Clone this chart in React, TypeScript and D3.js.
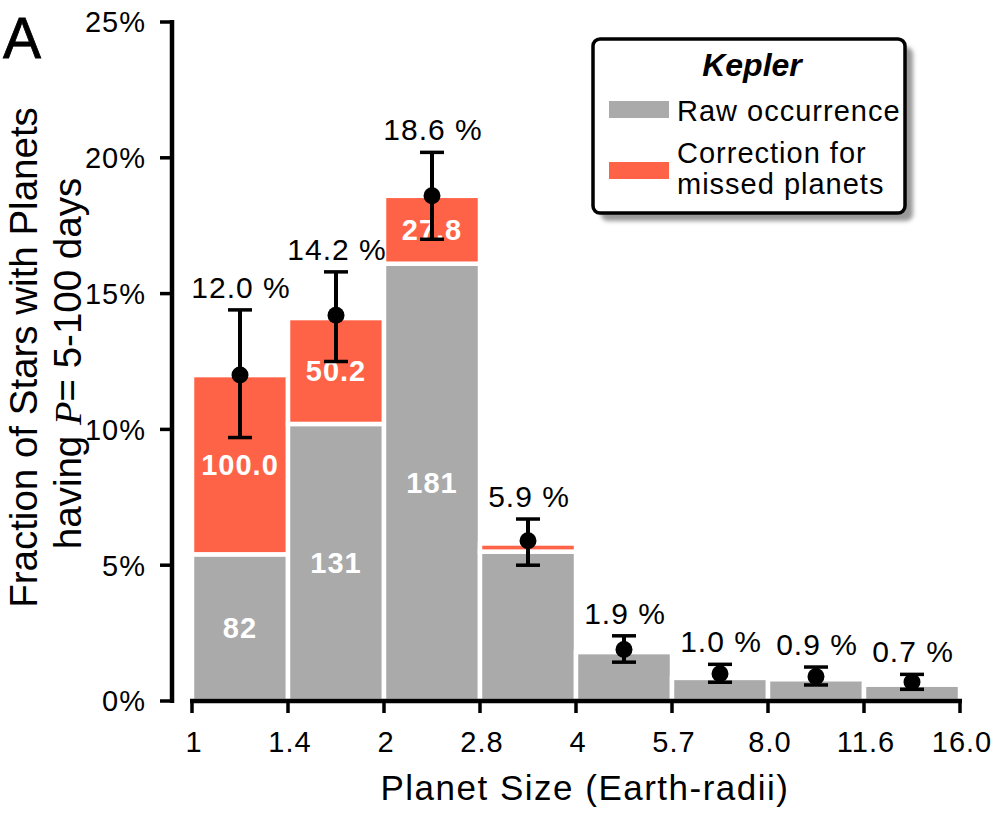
import React from "react";
import * as d3 from "d3";

// bin edges in Earth radii (tick labels)
const binEdges = ["1", "1.4", "2", "2.8", "4", "5.7", "8.0", "11.6", "16.0"];

// bar heights (% of stars)
const rawOccurrence = [5.4, 10.2, 16.1, 5.5, 1.8, 0.85, 0.8, 0.6];
const missedCorrection = [6.6, 3.9, 2.5, 0.3, 0, 0, 0, 0];

// occurrence points with error bars
const occurrence = [12.0, 14.2, 18.6, 5.9, 1.9, 1.0, 0.9, 0.7];
const errHigh = [14.4, 15.8, 20.2, 6.7, 2.4, 1.35, 1.25, 0.98];
const errLow = [9.7, 12.5, 17.0, 5.0, 1.43, 0.69, 0.59, 0.43];

// text inside bars
const rawCounts = ["82", "131", "181", "", "", "", "", ""];
const correctionPct = ["100.0", "50.2", "27.8", "", "", "", "", ""];

const yTicks = [0, 5, 10, 15, 20, 25];

const GRAY = "#aaaaaa";
const RED = "#ff6347";
const FONT = "'Liberation Sans', Arial, Helvetica, sans-serif";

const App = () => {
  const width = 999;
  const height = 814;

  const x = d3.scaleLinear().domain([0, binEdges.length - 1]).range([192, 960]);
  const y = d3.scaleLinear().domain([0, 25]).range([701, 22]);
  const axisX = 172;

  const bins = rawOccurrence.map((r, i) => ({
    i,
    raw: r,
    total: r + missedCorrection[i],
    x0: x(i),
    x1: x(i + 1),
    xc: (x(i) + x(i + 1)) / 2,
  }));

  return (
    <svg
      width={width}
      height={height}
      style={{ position: "absolute", left: 0, top: 0, background: "#fff" }}
      fontFamily={FONT}
    >
      <defs>
        <filter id="shadowBlur" x="-10%" y="-10%" width="120%" height="120%">
          <feGaussianBlur stdDeviation="2" />
        </filter>
      </defs>

      {/* panel letter */}
      <text x={3} y={58} fontSize={57} fill="#000" stroke="#000" strokeWidth={0.8}>
        A
      </text>

      {/* bars */}
      <g stroke="#fff" strokeWidth={4.5}>
        {bins.map((b) => (
          <g key={b.i}>
            <rect
              x={b.x0}
              y={y(b.raw)}
              width={b.x1 - b.x0}
              height={y(0) - y(b.raw)}
              fill={GRAY}
            />
            {missedCorrection[b.i] > 0 && (
              <rect
                x={b.x0}
                y={y(b.total)}
                width={b.x1 - b.x0}
                height={y(b.raw) - y(b.total)}
                fill={RED}
              />
            )}
          </g>
        ))}
      </g>

      {/* labels in bars */}
      <g fill="#fff" fontWeight="bold" fontSize={29} textAnchor="middle" letterSpacing={1}>
        {bins.map((b) => (
          <g key={b.i}>
            {rawCounts[b.i] && (
              <text x={b.xc} y={(y(0) + y(b.raw)) / 2} dy="0.36em">
                {rawCounts[b.i]}
              </text>
            )}
            {correctionPct[b.i] && (
              <text x={b.xc} y={(y(b.raw) + y(b.total)) / 2} dy="0.36em">
                {correctionPct[b.i]}
              </text>
            )}
          </g>
        ))}
      </g>

      {/* error bars and points */}
      <g stroke="#000">
        {bins.map((b) => (
          <g key={b.i}>
            <line x1={b.xc} x2={b.xc} y1={y(errHigh[b.i])} y2={y(errLow[b.i])} strokeWidth={4} />
            <line x1={b.xc - 12} x2={b.xc + 12} y1={y(errHigh[b.i])} y2={y(errHigh[b.i])} strokeWidth={3.5} />
            <line x1={b.xc - 12} x2={b.xc + 12} y1={y(errLow[b.i])} y2={y(errLow[b.i])} strokeWidth={3.5} />
            <circle cx={b.xc} cy={y(occurrence[b.i])} r={8.5} fill="#000" stroke="none" />
          </g>
        ))}
      </g>

      {/* percentage labels above */}
      <g fontSize={30} textAnchor="middle" fill="#000" letterSpacing={1}>
        {bins.map((b) => (
          <text key={b.i} x={b.xc + 1} y={y(errHigh[b.i]) - 12}>
            {occurrence[b.i].toFixed(1)} %
          </text>
        ))}
      </g>

      {/* y axis */}
      <g stroke="#000">
        <line x1={axisX} x2={axisX} y1={y(25) - 2} y2={y(0) + 2} strokeWidth={4.5} />
        {yTicks.map((t) => (
          <line key={t} x1={axisX - 12} x2={axisX} y1={y(t)} y2={y(t)} strokeWidth={3.5} />
        ))}
      </g>
      <g fontSize={29} textAnchor="end" fill="#000" letterSpacing={1}>
        {yTicks.map((t) => (
          <text key={t} x={146} y={y(t)} dy="0.36em">
            {t}%
          </text>
        ))}
      </g>

      {/* x axis */}
      <g stroke="#000">
        <line x1={x(0) - 2} x2={x(binEdges.length - 1) + 2} y1={y(0)} y2={y(0)} strokeWidth={4.5} />
        {binEdges.map((_, i) => (
          <line key={i} x1={x(i)} x2={x(i)} y1={y(0)} y2={y(0) + 12} strokeWidth={3.5} />
        ))}
      </g>
      <g fontSize={29} textAnchor="middle" fill="#000" letterSpacing={1}>
        {binEdges.map((l, i) => (
          <text key={i} x={x(i) + 2} y={752}>
            {l}
          </text>
        ))}
      </g>
      <text x={585} y={800} fontSize={35} textAnchor="middle" fill="#000" letterSpacing={1.5}>
        Planet Size (Earth-radii)
      </text>

      {/* y title */}
      <g transform={`translate(0,${(y(0) + y(25)) / 2 - 4}) rotate(-90)`} fontSize={38.5} textAnchor="middle" fill="#000">
        <text x={0} y={37}>
          Fraction of Stars with Planets
        </text>
        <text x={-6} y={81}>
          having{" "}
          <tspan fontFamily="'Liberation Serif', 'DejaVu Serif', serif" fontStyle="italic">
            P
          </tspan>
          = 5-100 days
        </text>
      </g>

      {/* legend */}
      <g>
        <rect x={601} y={47} width={312} height={174} rx={7} fill="#999" filter="url(#shadowBlur)" />
        <rect x={593} y={39} width={312} height={174} rx={7} fill="#fff" stroke="#000" strokeWidth={3.5} />
        <text x={752} y={76} fontSize={32} fontWeight="bold" fontStyle="italic" textAnchor="middle">
          Kepler
        </text>
        <rect x={609} y={101} width={60} height={17} fill={GRAY} />
        <rect x={609} y={162} width={60} height={17} fill={RED} />
        <g fontSize={29} letterSpacing={1} fill="#000">
          <text x={677} y={121}>Raw occurrence</text>
          <text x={677} y={163}>Correction for</text>
          <text x={677} y={194}>missed planets</text>
        </g>
      </g>
    </svg>
  );
};

export default App;
